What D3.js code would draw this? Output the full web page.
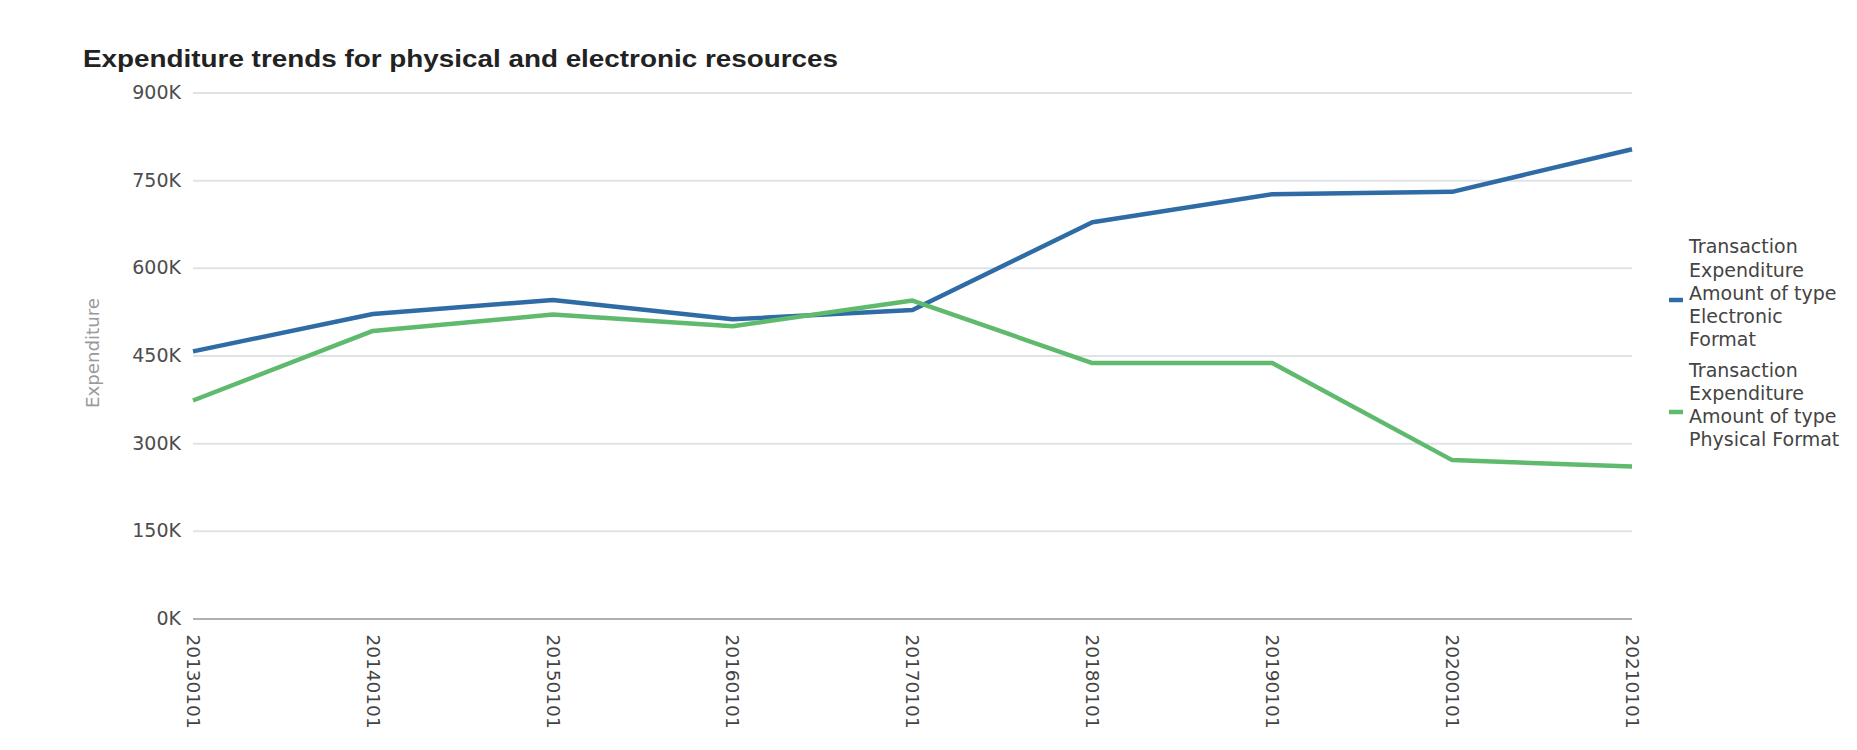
<!DOCTYPE html>
<html>
<head>
<meta charset="utf-8">
<script src="https://cdn.jsdelivr.net/npm/d3@7/dist/d3.min.js"></script>
<style>
  html, body { margin: 0; padding: 0; background: #ffffff; }
  svg { display: block; }
</style>
</head>
<body>
<svg id="chart" width="1857" height="750"></svg>
<script>
// ---- data ----
const categories = ["20130101","20140101","20150101","20160101","20170101","20180101","20190101","20200101","20210101"];
const electronic = [457000, 521000, 545000, 512000, 528000, 678000, 726000, 730000, 803000];
const physical   = [373000, 492000, 520000, 500000, 544000, 437000, 437000, 271000, 260000];
const yTicks = [0, 150000, 300000, 450000, 600000, 750000, 900000];
const seriesNames = [
  ["Transaction","Expenditure","Amount of type","Electronic","Format"],
  ["Transaction","Expenditure","Amount of type","Physical Format"]
];
const seriesColors = ["#2f6ca5", "#5fba6d"];
const titleText = "Expenditure trends for physical and electronic resources";
const yTitle = "Expenditure";

// ---- layout ----
const svg = d3.select("#chart");
const plotLeft = 193, plotRight = 1632, plotTop = 92.5, plotBottom = 618.5;
const FONT = "DejaVu Sans, Verdana, sans-serif";

const x = d3.scalePoint().domain(categories).range([plotLeft, plotRight]).padding(0);
const y = d3.scaleLinear().domain([0, 900000]).range([plotBottom, plotTop]);

svg.append("text")
  .attr("x", 83).attr("y", 67)
  .attr("font-family", "Liberation Sans, Arial, sans-serif")
  .attr("font-weight", "bold")
  .attr("font-size", 23)
  .attr("textLength", 755).attr("lengthAdjust", "spacingAndGlyphs")
  .attr("fill", "#222")
  .text(titleText);

// grid
const yAxis = d3.axisLeft(y).tickValues(yTicks)
  .tickFormat(d => (d/1000) + "K")
  .tickSize(-(plotRight - plotLeft)).tickPadding(12);
const gy = svg.append("g").attr("transform", `translate(${plotLeft},0)`).call(yAxis);
gy.select(".domain").remove();
gy.selectAll(".tick line").attr("stroke", "#dfe2e6").attr("stroke-width", 2);
gy.selectAll(".tick").filter(d => d === 0).select("line").attr("stroke", "#b0b0b0");
gy.selectAll(".tick text")
  .attr("font-family", FONT)
  .attr("font-size", 19).attr("fill", "#4d4d4d");

// x axis labels
const xAxis = d3.axisBottom(x).tickSize(0).tickPadding(0);
const gx = svg.append("g").attr("transform", `translate(0,${plotBottom})`).call(xAxis);
gx.select(".domain").remove();
gx.selectAll(".tick text")
  .attr("font-family", FONT)
  .attr("font-size", 18.5).attr("fill", "#444")
  .attr("text-anchor", "start")
  .attr("transform", "rotate(90)")
  .attr("x", 16).attr("y", 0).attr("dy", "0.36em");

// y axis title
svg.append("text")
  .attr("transform", `translate(99,353) rotate(-90)`)
  .attr("text-anchor", "middle")
  .attr("font-family", FONT)
  .attr("font-size", 17)
  .attr("textLength", 110).attr("lengthAdjust", "spacingAndGlyphs")
  .attr("fill", "#9a9a9a")
  .text(yTitle);

// lines
const line = d3.line().x((d, i) => x(categories[i])).y(d => y(d));
[electronic, physical].forEach((s, i) => {
  svg.append("path").datum(s)
    .attr("fill", "none")
    .attr("stroke", seriesColors[i])
    .attr("stroke-width", 4.5)
    .attr("stroke-linejoin", "round")
    .attr("d", line);
});

// legend
const legendY = [[253, 277, 300, 323, 346], [377, 400, 423, 446]];
const swatchY = [300, 412];
seriesNames.forEach((lines, i) => {
  const g = svg.append("g");
  const ys = legendY[i];
  g.append("line")
    .attr("x1", 1669).attr("x2", 1683)
    .attr("y1", swatchY[i]).attr("y2", swatchY[i])
    .attr("stroke", seriesColors[i]).attr("stroke-width", 4.5);
  lines.forEach((t, j) => {
    g.append("text")
      .attr("x", 1689).attr("y", ys[j])
      .attr("font-family", FONT)
      .attr("font-size", 19).attr("fill", "#444")
      .text(t);
  });
});
</script>
</body>
</html>
